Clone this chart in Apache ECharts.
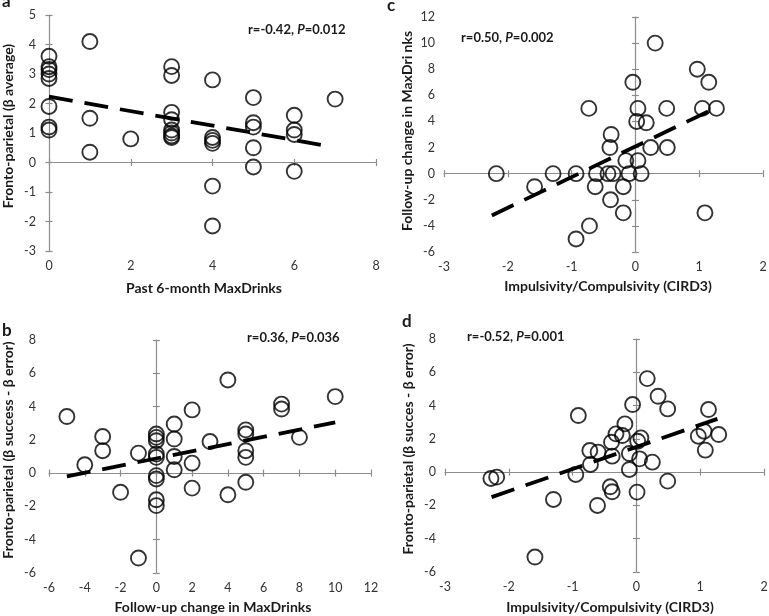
<!DOCTYPE html>
<html><head><meta charset="utf-8">
<script src="https://cdn.jsdelivr.net/npm/echarts@6/dist/echarts.min.js"></script>
<style>html,body{margin:0;padding:0;background:#fff}#c{width:769px;height:616px}</style>
</head><body><div id="c"></div>
<script>
// Panel a: Past 6-month MaxDrinks vs Fronto-parietal (β average)
const aX = [0,0,0,0,0,0,0,0, 1,1,1, 2, 3,3,3,3,3,3,3,3, 4,4,4,4,4,4, 5,5,5,5,5, 6,6,6,6, 7];
const aY = [3.6,3.25,3.15,3.0,2.85,1.9,1.2,1.1, 4.1,1.5,0.35, 0.8, 3.25,2.95,1.7,1.45,1.1,1.0,0.9,0.85, 2.8,0.85,0.75,0.65,-0.8,-2.15, 2.2,1.35,1.2,0.5,-0.15, 1.6,1.1,0.95,-0.3, 2.15];
const aTrendX = [0, 6.9];
const aTrendY = [2.23, 0.54];
const aXTicks = [0, 8, 2];
const aYTicks = [-3, 5, 1];

// Panel b: Follow-up change in MaxDrinks vs Fronto-parietal (β success - β error)
const bX = [-5,-4,-3,-3,-2,-1,-1, 0,0,0,0,0,0,0,0,0, 1,1,1,1, 2,2,2, 3, 4,4, 5,5,5,5,5, 7,7, 8, 10];
const bY = [3.4,0.5,2.2,1.35,-1.15,1.2,-5.1, 2.35,2.15,1.95,1.15,0.95,-0.15,-0.35,-1.6,-1.95, 2.95,2.05,1.0,0.2, 3.8,0.6,-0.9, 1.9, 5.6,-1.3, 2.6,2.35,1.35,0.95,-0.55, 4.15,3.85, 2.15, 4.6];
const bTrendX = [-5, 10];
const bTrendY = [-0.2, 3.05];
const bXTicks = [-6, 12, 2];
const bYTicks = [-6, 8, 2];

// Panel c: Impulsivity/Compulsivity (CIRD3) vs Follow-up change in MaxDrinks
const cX = [-2.18,-1.58,-1.29,-0.93,-0.93,-0.72,-0.73,-0.61,-0.63,-0.38,-0.40,-0.43,-0.35,-0.39,-0.19,-0.19,-0.15,-0.10,-0.04,0.04,0.04,0.02,0.17,0.09,0.24,0.31,0.49,0.50,0.97,1.15,1.05,1.27,1.09];
const cY = [0,-1,0,0,-5,-4,5,0,-1,3,2,0,0,-2,-1,-3,1,0,7,1,5,4,3.9,0,2,10,5,2,8,7,5,5,-3];
const cTrendX = [-2.25, 1.22];
const cTrendY = [-3.2, 4.95];
const cXTicks = [-3, 2, 1];
const cYTicks = [-6, 12, 2];

// Panel d: Impulsivity/Compulsivity (CIRD3) vs Fronto-parietal (β succes - β error)
const dX = [-2.28,-2.19,-1.59,-1.30,-0.91,-0.95,-0.73,-0.72,-0.60,-0.61,-0.39,-0.32,-0.38,-0.41,-0.38,-0.18,-0.22,-0.11,-0.06,-0.11,0.07,0.02,0.05,0.01,0.17,0.25,0.34,0.49,0.49,0.97,1.06,1.08,1.13,1.29];
const dY = [-0.38,-0.3,-5.1,-1.64,3.4,-0.14,1.3,0.46,1.2,-2.0,1.8,2.3,0.96,-0.88,-1.18,2.9,2.2,1.12,4.06,0.16,2.06,1.86,0.8,-1.2,5.62,0.6,4.56,3.8,-0.54,2.16,2.46,1.32,3.76,2.26];
const dTrendX = [-2.27, 1.27];
const dTrendY = [-1.5, 3.2];
const dXTicks = [-3, 2, 1];
const dYTicks = [-6, 8, 2];

const FONT = 'Lato';
const AXC = '#8c8c8c';
const LBC = '#333333';

const panels = [
  {x:aX, y:aY, tx:aTrendX, ty:aTrendY, xt:aXTicks, yt:aYTicks, grid:{left:49, top:15, width:327, height:236}, ym:13},
  {x:bX, y:bY, tx:bTrendX, ty:bTrendY, xt:bXTicks, yt:bYTicks, grid:{left:49, top:340, width:322, height:233}, ym:13},
  {x:cX, y:cY, tx:cTrendX, ty:cTrendY, xt:cXTicks, yt:cYTicks, grid:{left:444, top:17, width:319, height:235}, ym:9},
  {x:dX, y:dY, tx:dTrendX, ty:dTrendY, xt:dXTicks, yt:dYTicks, grid:{left:445, top:339, width:319, height:233}, ym:9}
];

const grids = [], xAxes = [], yAxes = [], series = [];
panels.forEach((p, g) => {
  grids.push(Object.assign({outerBoundsMode:'none', containLabel:false}, p.grid));
  const xr = {min:p.xt[0], max:p.xt[1], interval:p.xt[2]};
  const yr = {min:p.yt[0], max:p.yt[1], interval:p.yt[2]};
  // label axes
  xAxes.push(Object.assign({type:'value', gridIndex:g, position:'bottom', axisLine:{show:false, onZero:false}, axisTick:{show:false}, splitLine:{show:false},
    axisLabel:{color:LBC, fontFamily:FONT, fontSize:12.5, margin:8}}, xr));
  yAxes.push(Object.assign({type:'value', gridIndex:g, position:'left', axisLine:{show:false, onZero:false}, axisTick:{show:false}, splitLine:{show:false},
    axisLabel:{color:LBC, fontFamily:FONT, fontSize:12.5, margin:p.ym}}, yr));
  // line axes (outward ticks)
  xAxes.push(Object.assign({type:'value', gridIndex:g, position:'bottom', axisLine:{show:true, onZero:true, lineStyle:{color:AXC, width:1.2}},
    axisTick:{show:true, inside:false, length:3.5, lineStyle:{color:AXC, width:1.2}}, axisLabel:{show:false}, splitLine:{show:false}}, xr));
  yAxes.push(Object.assign({type:'value', gridIndex:g, position:'left', axisLine:{show:true, onZero:true, lineStyle:{color:AXC, width:1.2}},
    axisTick:{show:true, inside:false, length:3.5, lineStyle:{color:AXC, width:1.2}}, axisLabel:{show:false}, splitLine:{show:false}}, yr));
  // inward ticks
  xAxes.push(Object.assign({type:'value', gridIndex:g, position:'bottom', axisLine:{show:false, onZero:true},
    axisTick:{show:true, inside:true, length:3.5, lineStyle:{color:AXC, width:1.2}}, axisLabel:{show:false}, splitLine:{show:false}}, xr));
  yAxes.push(Object.assign({type:'value', gridIndex:g, position:'left', axisLine:{show:false, onZero:true},
    axisTick:{show:true, inside:true, length:3.5, lineStyle:{color:AXC, width:1.2}}, axisLabel:{show:false}, splitLine:{show:false}}, yr));
  series.push({type:'scatter', xAxisIndex:3*g, yAxisIndex:3*g, data:p.x.map((v,i)=>[v,p.y[i]]),
    symbol:'circle', symbolSize:15, itemStyle:{color:'rgba(255,255,255,0)', borderColor:'#000', borderWidth:1.9}, z:3, silent:true});
  series.push({type:'line', xAxisIndex:3*g, yAxisIndex:3*g, data:p.tx.map((v,i)=>[v,p.ty[i]]), symbol:'none',
    lineStyle:{color:'#000', width:3.8, type:[24,12], cap:'butt'}, z:5, silent:true});
});

function txt(x, y, text, opts) {
  return {type:'text', x:x, y:y, silent:true, style:Object.assign({text:text, fill:'#1a1a1a', font:'bold 14px ' + FONT, align:'center', verticalAlign:'middle'}, opts || {})};
}
function vtxt(x, y, text) {
  return {type:'text', x:x, y:y, rotation:Math.PI/2, silent:true, style:{text:text, fill:'#1a1a1a', font:'bold 14px ' + FONT, align:'center', verticalAlign:'middle'}};
}
function stat(x, y, r, p) {
  return {type:'text', x:x, y:y, silent:true, style:{text:'{b|r=' + r + ', }{i|P}{b|=' + p + '}', verticalAlign:'middle',
    rich:{b:{font:'bold 13px ' + FONT, fill:'#1a1a1a'}, i:{font:'italic bold 13px ' + FONT, fill:'#1a1a1a'}}}};
}

const graphic = [
  txt(2, 2, 'a', {font:'bold 17px ' + FONT, align:'left'}),
  txt(387, 6, 'c', {font:'bold 17px ' + FONT, align:'left'}),
  txt(2, 331, 'b', {font:'bold 17px ' + FONT, align:'left'}),
  txt(402, 322, 'd', {font:'bold 17px ' + FONT, align:'left'}),
  txt(204, 288, 'Past 6-month MaxDrinks'),
  txt(608, 286, 'Impulsivity/Compulsivity (CIRD3)'),
  txt(213, 607, 'Follow-up change in MaxDrinks'),
  txt(610, 607, 'Impulsivity/Compulsivity (CIRD3)'),
  vtxt(8, 126, 'Fronto-parietal (β average)'),
  vtxt(407, 131, 'Follow-up change in MaxDri nks'),
  vtxt(8, 450, 'Fronto-parietal (β success - β error)'),
  vtxt(408, 449, 'Fronto-parietal (β succes - β error)'),
  stat(248, 30, '-0.42', '0.012'),
  stat(461, 38, '0.50', '0.002'),
  stat(247, 338, '0.36', '0.036'),
  stat(467, 337, '-0.52', '0.001')
];

const chart = echarts.init(document.getElementById('c'), null, {renderer:'canvas'});
chart.setOption({
  animation:false,
  backgroundColor:'#fff',
  grid:grids, xAxis:xAxes, yAxis:yAxes, series:series, graphic:graphic
});
</script></body></html>
